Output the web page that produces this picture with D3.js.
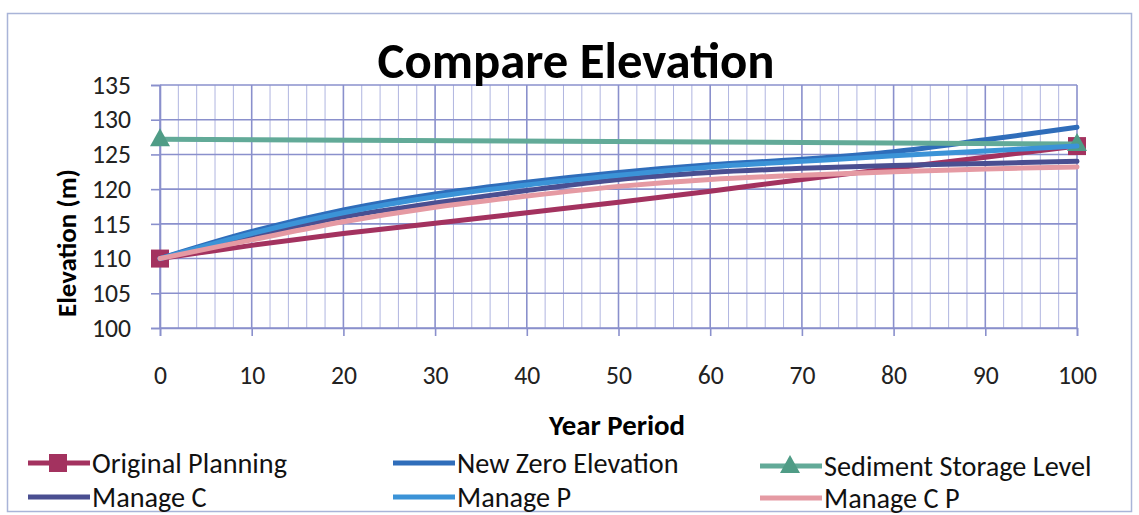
<!DOCTYPE html>
<html>
<head>
<meta charset="utf-8">
<script src="https://cdn.jsdelivr.net/npm/d3@7"></script>
<style>
  html, body { margin: 0; padding: 0; background: #fff; }
  svg { display: block; }
</style>
</head>
<body>
<svg id="chart" width="1139" height="515"></svg>
<script>
// Elevation scenarios over a 100-year period
const years = [0, 10, 20, 30, 40, 50, 60, 70, 80, 90, 100];
const originalPlanning = [110, 111.9, 113.6, 115.1, 116.6, 118.1, 119.7, 121.4, 123.0, 124.6, 126.2];
const newZeroElevation = [110, 113.9, 117.0, 119.3, 121.0, 122.4, 123.5, 124.3, 125.4, 127.1, 128.9];
const sedimentYears = [0, 100];
const sedimentStorageLevel = [127.2, 126.5];
const manageC = [110, 113.2, 116.0, 118.0, 119.8, 121.4, 122.4, 123.0, 123.4, 123.7, 124.0];
const manageP = [110, 113.6, 116.6, 118.9, 120.6, 122.0, 123.2, 124.0, 124.8, 125.5, 126.2];
const manageCP = [110, 112.7, 115.3, 117.4, 119.0, 120.4, 121.4, 122.0, 122.5, 122.9, 123.2];

const seriesNames = ["Original Planning", "New Zero Elevation", "Sediment Storage Level", "Manage C", "Manage P", "Manage C P"];
const yTicks = [100, 105, 110, 115, 120, 125, 130, 135];
const xTicks = [0, 10, 20, 30, 40, 50, 60, 70, 80, 90, 100];

const series = [
  { name: seriesNames[0], xs: years, ys: originalPlanning, color: "#a3325f", marker: "square" },
  { name: seriesNames[1], xs: years, ys: newZeroElevation, color: "#2f6dba" },
  { name: seriesNames[2], xs: sedimentYears, ys: sedimentStorageLevel, color: "#62aa98", marker: "triangle", markerColor: "#4f9c86" },
  { name: seriesNames[3], xs: years, ys: manageC, color: "#4a4f91" },
  { name: seriesNames[4], xs: years, ys: manageP, color: "#3b93d7" },
  { name: seriesNames[5], xs: years, ys: manageCP, color: "#e59aa3" }
];

const font = "Carlito, Lato, 'Open Sans', sans-serif";
const svg = d3.select("#chart");

function fitWidth(sel, target, size) {
  const w = sel.node().getComputedTextLength();
  return w > 0 ? size * target / w : size;
}

// chart frame
svg.append("rect")
  .attr("x", 7.5).attr("y", 13.5).attr("width", 1124).attr("height", 498)
  .attr("fill", "#fff").attr("stroke", "#a9b4d8").attr("stroke-width", 1.5);

const plot = { left: 160, right: 1077, top: 85, bottom: 328 };
const x = d3.scaleLinear().domain([0, 100]).range([plot.left, plot.right]);
const y = d3.scaleLinear().domain([100, 135]).range([plot.bottom, plot.top]);

const gridColor = "#8a90cc";

// minor vertical grid every 2 years
const g = svg.append("g");
g.selectAll("line.minor").data(d3.range(0, 101, 2).filter(v => v % 10 !== 0)).join("line")
  .attr("x1", d => x(d)).attr("x2", d => x(d))
  .attr("y1", plot.top).attr("y2", plot.bottom)
  .attr("stroke", "#b0b5e0").attr("stroke-width", 1);

// major vertical gridlines
g.selectAll("line.vmajor").data(xTicks).join("line")
  .attr("x1", d => x(d)).attr("x2", d => x(d))
  .attr("y1", plot.top).attr("y2", plot.bottom)
  .attr("stroke", gridColor).attr("stroke-width", 1.6);

// horizontal gridlines
g.selectAll("line.hmajor").data(yTicks).join("line")
  .attr("x1", plot.left).attr("x2", plot.right)
  .attr("y1", d => y(d)).attr("y2", d => y(d))
  .attr("stroke", gridColor).attr("stroke-width", 1.6);

// tick label size: three digits span about 39px
const probe = svg.append("text").attr("font-family", font).attr("font-size", 20).text("100");
const tickSize = fitWidth(probe, 39, 20);
probe.remove();

// axes
const yAxis = d3.axisLeft(y).tickValues(yTicks).tickSize(9).tickPadding(20);
const yg = svg.append("g").attr("transform", `translate(${plot.left},0)`).call(yAxis);
yg.attr("font-family", font).attr("font-size", tickSize);
yg.select(".domain").attr("stroke", gridColor).attr("stroke-width", 1.6);
yg.selectAll(".tick line").attr("stroke", gridColor).attr("stroke-width", 1.6);
yg.selectAll(".tick text").attr("font-family", font).attr("font-size", tickSize).attr("fill", "#222");

const xAxis = d3.axisBottom(x).tickValues(xTicks).tickSize(8).tickPadding(30);
const xg = svg.append("g").attr("transform", `translate(0,${plot.bottom})`).call(xAxis);
xg.attr("font-family", font).attr("font-size", tickSize);
xg.select(".domain").attr("stroke", gridColor).attr("stroke-width", 1.6);
xg.selectAll(".tick line").attr("stroke", gridColor).attr("stroke-width", 1.6);
xg.selectAll(".tick text").attr("font-family", font).attr("font-size", tickSize).attr("fill", "#222");

// series lines
const line = d3.line().curve(d3.curveCatmullRom.alpha(0.5));
const lines = svg.append("g");
series.forEach(s => {
  const pts = s.xs.map((v, i) => [x(v), y(s.ys[i])]);
  lines.append("path")
    .attr("d", line(pts))
    .attr("fill", "none")
    .attr("stroke", s.color)
    .attr("stroke-width", 5)
    .attr("stroke-linecap", "round")
    .attr("stroke-linejoin", "round");
  if (s.marker) {
    const ends = [pts[0], pts[pts.length - 1]];
    ends.forEach(p => drawMarker(lines, s, p[0], p[1]));
  }
});

function drawMarker(parent, s, cx, cy) {
  const c = s.markerColor || s.color;
  if (s.marker === "square") {
    parent.append("rect")
      .attr("x", cx - 9).attr("y", cy - 9).attr("width", 18).attr("height", 18)
      .attr("fill", c);
  } else if (s.marker === "triangle") {
    parent.append("path")
      .attr("d", `M${cx},${cy - 11}L${cx + 10},${cy + 7}L${cx - 10},${cy + 7}Z`)
      .attr("fill", c);
  }
}

// title
const title = svg.append("text")
  .attr("x", 576).attr("y", 78)
  .attr("text-anchor", "middle")
  .attr("font-family", font).attr("font-weight", "bold")
  .attr("font-size", 40).attr("fill", "#000")
  .text("Compare Elevation");
title.attr("font-size", fitWidth(title, 397, 40));

// axis titles
const xt = svg.append("text")
  .attr("x", 617).attr("y", 435)
  .attr("text-anchor", "middle")
  .attr("font-family", font).attr("font-weight", "bold")
  .attr("font-size", 22).attr("fill", "#000")
  .text("Year Period");
xt.attr("font-size", fitWidth(xt, 136, 22));

const yt = svg.append("text")
  .attr("transform", "translate(76,243) rotate(-90)")
  .attr("text-anchor", "middle")
  .attr("font-family", font).attr("font-weight", "bold")
  .attr("font-size", 22).attr("fill", "#000")
  .text("Elevation (m)");
yt.attr("font-size", fitWidth(yt, 148, 22));

// legend: one shared font size, set so "Original Planning" spans about 195px
const legendPos = [
  { x: 28, y: 463 }, { x: 393, y: 463 }, { x: 760, y: 466 },
  { x: 28, y: 497 }, { x: 393, y: 497 }, { x: 760, y: 498 }
];
const lp = svg.append("text").attr("font-family", font).attr("font-size", 22).text(seriesNames[0]);
const legendSize = fitWidth(lp, 195, 22);
lp.remove();

const legend = svg.append("g");
series.forEach((s, i) => {
  const p = legendPos[i];
  const gi = legend.append("g");
  gi.append("line")
    .attr("x1", p.x).attr("x2", p.x + 62)
    .attr("y1", p.y).attr("y2", p.y)
    .attr("stroke", s.color).attr("stroke-width", 5);
  if (s.marker) drawMarker(gi, s, p.x + 30, p.y);
  gi.append("text")
    .attr("x", p.x + 64).attr("y", p.y)
    .attr("dy", "0.35em")
    .attr("font-family", font).attr("font-size", legendSize).attr("fill", "#111")
    .text(s.name);
});
</script>
</body>
</html>
